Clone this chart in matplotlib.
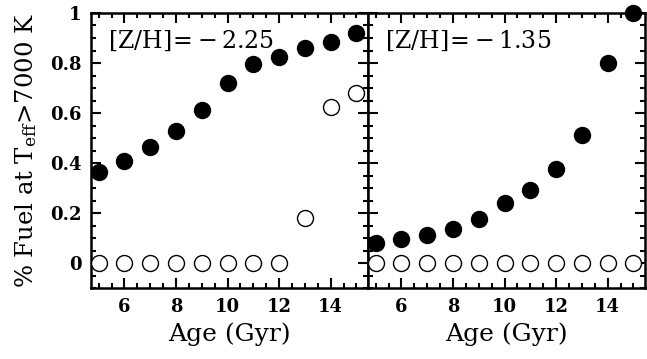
import matplotlib
matplotlib.use("Agg")
import matplotlib.pyplot as plt
from matplotlib.ticker import MultipleLocator

plt.rcParams['font.family'] = ['DejaVu Serif']
plt.rcParams['mathtext.fontset'] = 'dejavuserif'

age = [5, 6, 7, 8, 9, 10, 11, 12, 13, 14, 15]

# [Z/H] = -2.25
poor_filled = [0.363, 0.408, 0.463, 0.528, 0.612, 0.719, 0.795, 0.825, 0.859, 0.885, 0.919]
poor_open = [0.0, 0.0, 0.0, 0.0, 0.0, 0.0, 0.0, 0.0, 0.179, 0.625, 0.681]

# [Z/H] = -1.35
rich_filled = [0.079, 0.095, 0.112, 0.136, 0.175, 0.241, 0.292, 0.375, 0.512, 0.799, 1.0]
rich_open = [0.0] * 11

panels = [
    (poor_filled, poor_open, r'$[\mathrm{Z/H}]\!=\!-2.25$'),
    (rich_filled, rich_open, r'$[\mathrm{Z/H}]\!=\!-1.35$'),
]

W, H = 647, 359
fig = plt.figure(figsize=(W / 100, H / 100), dpi=100)
boxes = [(91, 13, 368, 288), (368, 13, 645, 288)]

for i, ((filled, opn, label), (x0, y0, x1, y1)) in enumerate(zip(panels, boxes)):
    ax = fig.add_axes([x0 / W, 1 - y1 / H, (x1 - x0) / W, (y1 - y0) / H])
    ax.plot(age, opn, 'o', ms=11.5, mfc='white', mec='black', mew=1.0, clip_on=False, zorder=3)
    ax.plot(age, filled, 'o', ms=11.5, mfc='black', mec='black', clip_on=False, zorder=4)
    ax.set_xlim(4.7, 15.45)
    ax.set_ylim(-0.1, 1.0)
    ax.xaxis.set_major_locator(MultipleLocator(2))
    ax.xaxis.set_minor_locator(MultipleLocator(0.5))
    ax.yaxis.set_major_locator(MultipleLocator(0.2))
    ax.yaxis.set_minor_locator(MultipleLocator(0.05))
    ax.tick_params(which='both', direction='in', top=True, right=True, width=1.5)
    ax.tick_params(which='major', length=7, pad=7)
    ax.tick_params(which='minor', length=3.5)
    ax.tick_params(labelsize=13)
    for s in ax.spines.values():
        s.set_linewidth(1.8)
    ax.set_xlabel('Age (Gyr)', fontsize=18, labelpad=5)
    ax.text(0.06, 0.9, label, transform=ax.transAxes, fontsize=17, va='center', ha='left')
    for t in ax.get_xticklabels() + ax.get_yticklabels():
        t.set_fontweight('bold')
    if i == 0:
        ax.set_yticks([0, 0.2, 0.4, 0.6, 0.8, 1.0])
        ax.set_yticklabels(['0', '0.2', '0.4', '0.6', '0.8', '1'], fontweight='bold')
        ax.set_ylabel(r'% Fuel at T$_{\rm eff}$>7000 K', fontsize=17.5, labelpad=8)
    else:
        ax.tick_params(labelleft=False)

fig.savefig('out.png', dpi=100)
